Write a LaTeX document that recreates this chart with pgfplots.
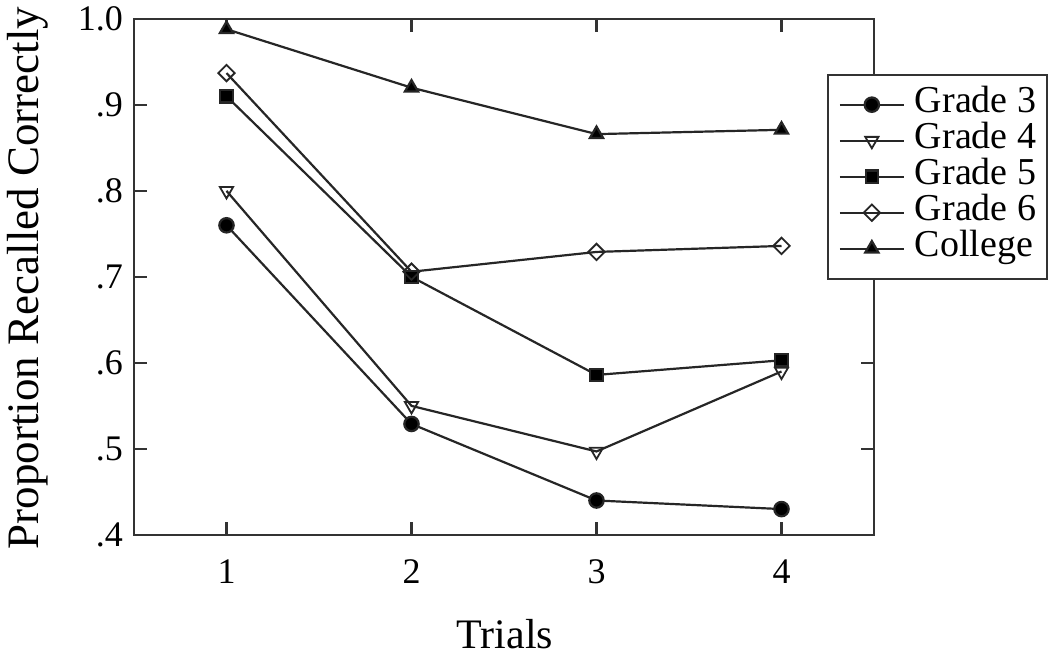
\documentclass[border=0pt]{standalone}
\usepackage{fontspec}
\setmainfont{Liberation Serif}
\usepackage{pgfplots}
\pgfplotsset{compat=1.18}
\begin{document}
\begin{tikzpicture}
\begin{axis}[
  name=ax,
  scale only axis,
  width=370pt, height=258pt,
  xmin=0.5, xmax=4.5, ymin=0.4, ymax=1.0,
  axis line style={line width=1.2pt, black!80},
  xtick={1,2,3,4}, xticklabels={1,2,3,4},
  ytick={0.4,0.5,0.6,0.7,0.8,0.9,1.0},
  yticklabels={.4,.5,.6,.7,.8,.9,1.0},
  tick align=inside,
  major tick length=6.5pt,
  tick style={line width=1.1pt, black!80},
  ticklabel style={font=\fontsize{18}{20}\selectfont},
  xticklabel style={yshift=-9pt},
  yticklabel style={xshift=-2pt},
  xlabel={Trials},
  ylabel={Proportion Recalled Correctly},
  every axis x label/.style={at={(axis description cs:0.501,-0.193)}, anchor=center, font=\fontsize{21}{24}\selectfont},
  every axis y label/.style={at={(axis description cs:-0.143,0.498)}, anchor=center, rotate=90, font=\fontsize{22.5}{24}\selectfont},
  clip=false,
  every axis plot/.append style={line width=1.1pt, black!85},
  legend style={
    at={(axis description cs:0.936,0.894)}, anchor=north west,
    draw=black!80, line width=1.1pt, fill=white,
    font=\fontsize{19}{20}\selectfont,
    inner xsep=5.5pt, inner ysep=7pt,
    row sep=2pt, column sep=5pt,
    nodes={inner sep=0pt, text height=12pt, text depth=4pt, anchor=west},
  },
  legend cell align=left,
  legend image code/.code={%
    \draw[mark repeat=2,mark phase=2,#1] plot coordinates {(0pt,0pt) (16pt,0pt) (32pt,0pt)};},
]
\addplot[mark=*, mark size=3.6pt, mark options={solid, fill=black}]
  coordinates {(1,0.760) (2,0.529) (3,0.440) (4,0.430)};
\addlegendentry{Grade 3}
\addplot[mark=triangle, mark size=3.8pt, mark options={solid, rotate=180, fill=white, line width=0.9pt}]
  coordinates {(1,0.800) (2,0.550) (3,0.497) (4,0.590)};
\addlegendentry{Grade 4}
\addplot[mark=square*, mark size=3.1pt, mark options={solid, fill=black}]
  coordinates {(1,0.910) (2,0.700) (3,0.586) (4,0.603)};
\addlegendentry{Grade 5}
\addplot[mark=square, mark size=2.9pt, mark options={solid, rotate=45, fill=white, line width=0.9pt}]
  coordinates {(1,0.937) (2,0.706) (3,0.729) (4,0.736)};
\addlegendentry{Grade 6}
\addplot[mark=triangle*, mark size=3.8pt, mark options={solid, fill=black}]
  coordinates {(1,0.988) (2,0.920) (3,0.866) (4,0.871)};
\addlegendentry{College}
\end{axis}
\path[use as bounding box] ([xshift=-67pt,yshift=-61pt]ax.south west) rectangle ([xshift=88pt,yshift=6.5pt]ax.north east);
\end{tikzpicture}
\end{document}
